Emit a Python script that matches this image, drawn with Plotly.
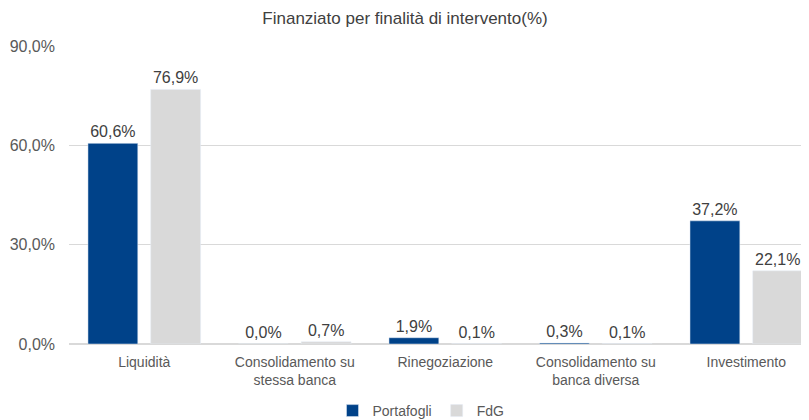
import plotly.graph_objects as go

categories = ["Liquidità", "Consolidamento su<br>stessa banca", "Rinegoziazione",
              "Consolidamento su<br>banca diversa", "Investimento"]
portafogli = [60.6, 0.0, 1.9, 0.3, 37.2]
fdg = [76.9, 0.7, 0.1, 0.1, 22.1]
tick_vals = [0, 30, 60, 90]
tick_text = ["0,0%", "30,0%", "60,0%", "90,0%"]

# The page body adds an 8px offset, so the figure is 8px smaller than the window.
W, H = 801, 412

fig = go.Figure()
fig.add_trace(go.Bar(name="Portafogli", x=categories, y=portafogli,
                     marker_color="#004289", texttemplate="%{y:.1f}%",
                     textposition="outside", cliponaxis=False,
                     textfont=dict(size=16, color="#404040")))
fig.add_trace(go.Bar(name="FdG", x=categories, y=fdg,
                     marker_color="#d9d9d9", texttemplate="%{y:.1f}%",
                     textposition="outside", cliponaxis=False,
                     textfont=dict(size=16, color="#404040")))

fig.update_layout(
    width=W, height=H,
    separators=",.",
    font=dict(family="Liberation Sans, Arial, sans-serif", color="#595959", size=13),
    title=dict(text="Finanziato per finalità di intervento(%)",
               xref="container", x=397 / W, xanchor="center",
               yref="container", y=1 - 10 / H, yanchor="middle",
               font=dict(size=17, color="#404040")),
    paper_bgcolor="white", plot_bgcolor="white",
    barmode="group", bargap=0.166, bargroupgap=0.206,
    margin=dict(l=61, r=1, t=38, b=76),
    legend=dict(orientation="h", xref="container", x=413 / W, xanchor="center",
                yref="container", y=9 / H, yanchor="middle",
                font=dict(size=14, color="#595959"), itemwidth=30),
    showlegend=True,
)
fig.update_yaxes(range=[0, 90], tickvals=tick_vals, ticktext=tick_text,
                 showgrid=True, gridcolor="#d9d9d9", zeroline=True, zerolinecolor="#d9d9d9",
                 tickfont=dict(size=16, color="#595959"), ticks="", automargin=False,
                 ticklabelstandoff=13)
fig.update_xaxes(showline=True, linecolor="#d9d9d9", automargin=False,
                 range=[-0.5, 4.41], ticklabelstandoff=5,
                 tickfont=dict(size=14, color="#595959"))

fig.write_html("out.html")
